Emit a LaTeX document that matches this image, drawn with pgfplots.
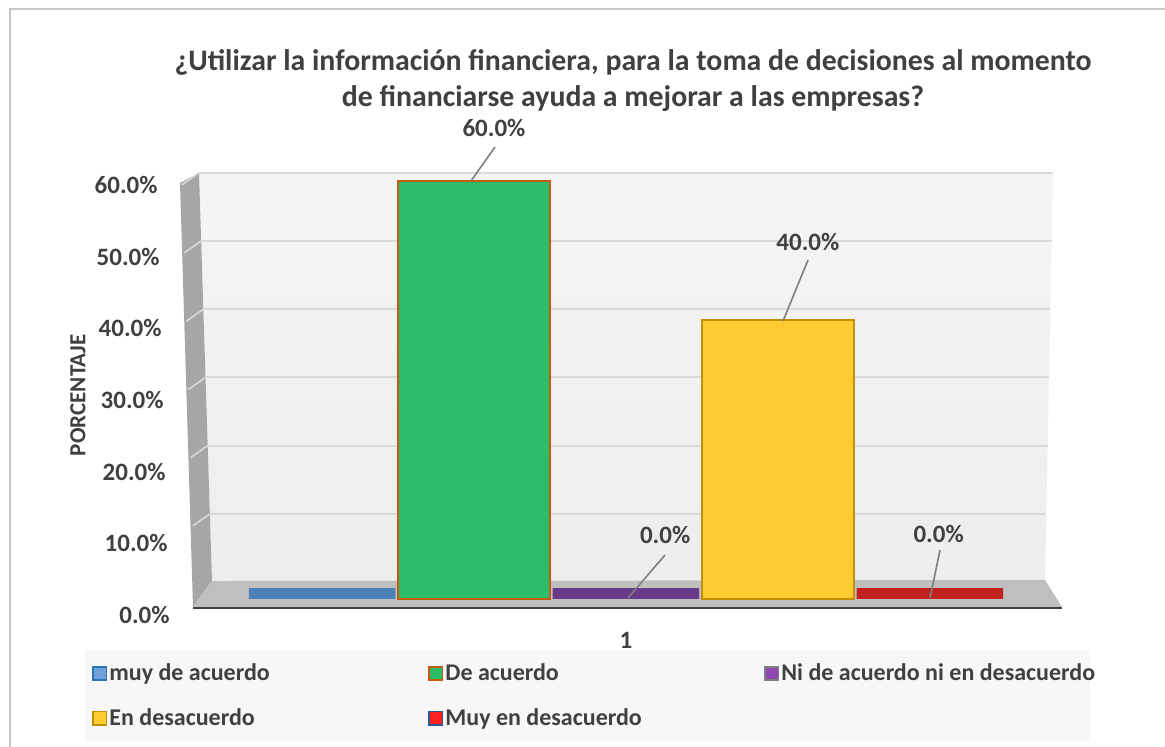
\documentclass[border=0pt]{standalone}
\usepackage{fontspec}
\setmainfont{Carlito}
\usepackage{pgfplots}
\pgfplotsset{compat=1.18}
\definecolor{txt}{HTML}{404040}
\definecolor{blueF}{RGB}{76,128,182}
\definecolor{blueB}{HTML}{2E75B6}
\definecolor{blueL}{RGB}{111,160,216}
\definecolor{greenF}{RGB}{44,189,107}
\definecolor{greenB}{HTML}{C55A11}
\definecolor{purpleF}{RGB}{104,58,137}
\definecolor{purpleL}{RGB}{142,72,176}
\definecolor{purpleB}{HTML}{7F7F7F}
\definecolor{yellowF}{RGB}{254,204,48}
\definecolor{yellowB}{RGB}{191,144,0}
\definecolor{redF}{RGB}{192,32,30}
\definecolor{redL}{RGB}{255,32,32}
\definecolor{redB}{RGB}{46,85,151}
\definecolor{gridc}{HTML}{D9D9D9}
\definecolor{leftw}{HTML}{A6A6A6}
\definecolor{floorc}{HTML}{BFBFBF}
\definecolor{legbg}{HTML}{F7F7F7}
\definecolor{leader}{HTML}{7F7F7F}
\tikzset{label node/.style={anchor=center, font=\fontsize{12.5}{14}\selectfont\bfseries, text=txt}}
\begin{document}
\begin{tikzpicture}
\begin{scope}[x=0.5pt,y=-0.5pt]
\useasboundingbox (0,0) rectangle (1165,746);
\fill[white] (0,0) rectangle (1165,746);
\draw[gray!45, line width=1pt] (10,760) -- (10,9) -- (1175,9);
% back wall
\shade[top color=white!96!black, bottom color=white!93!black] (199,173) -- (1053,173) -- (1045,580) -- (212,581) -- cycle;
% left wall
\fill[leftw] (180,183) -- (199,173) -- (212,581) -- (193,607) -- cycle;
% floor
\fill[floorc] (193,607) -- (212,581) -- (1045,580) -- (1062,607) -- cycle;
\draw[txt, line width=1.2pt] (193,608) -- (1062,608);
% gridlines on the back wall
\foreach \k in {1,...,6} {
  \pgfmathsetmacro\yy{582-68.2*\k}
  \pgfmathsetmacro\xl{199+13*(\yy-173)/408}
  \pgfmathsetmacro\xr{1053-8*(\yy-173)/407}
  \draw[gridc, line width=1pt] (\xl,\yy) -- (\xr,\yy);
  \draw[white!85!black, line width=0.8pt] (\xl,\yy) -- (\xl-17,\yy+12);
}
% title
\node[text=txt, font=\fontsize{14.9}{18}\selectfont\bfseries, align=center] at (633,81)
  {¿Utilizar la información financiera, para la toma de decisiones al momento\\de financiarse ayuda a mejorar a las empresas?};
\end{scope}

\begin{axis}[
  at={(96pt,-303.5pt)}, anchor=south west,
  scale only axis, width=435pt, height=217pt,
  xmin=-0.856, xmax=4.87, ymin=-1.148, ymax=61.12,
  axis line style={draw=none}, tick style={draw=none},
  ytick={0,10,...,60},
  /pgf/number format/assume math mode=true,
  yticklabel={\raisebox{\dimexpr\ticknum pt-12.3pt\relax}[0pt][0pt]{\pgfmathprintnumber[fixed,fixed zerofill,precision=1]{\tick}\%\hspace{\ticknum pt}}},
  yticklabel style={anchor=east, inner sep=0pt, xshift=-11pt},
  xtick={2}, xticklabels={1},
  xticklabel style={anchor=center, yshift=-12.5pt},
  tick label style={font=\fontsize{12.5}{14}\selectfont\bfseries, text=txt},
  ylabel={PORCENTAJE},
  every axis y label/.style={at={(rel axis cs:-0.131,0.488)}, rotate=90, anchor=center, font=\fontsize{11.5}{14}\selectfont\bfseries, text=txt},
  ybar, bar width=1, /pgf/bar shift=0pt,
  clip=false,
  legend columns=3,
  legend image code/.code={\draw[#1, line width=0.9pt] (0.45pt,-3.3pt) rectangle (7.05pt,3.3pt);},
  legend style={at={(rel axis cs:-0.123,-0.0991)}, anchor=north west, fill=legbg, draw=none,
    font=\fontsize{12}{14}\selectfont\bfseries, text=txt,
    inner xsep=3.5pt, inner ysep=5.5pt, row sep=10.5pt,
    nodes={inner sep=1pt},
    /tikz/every even column/.append style={column sep=8.5pt}},
]
\addplot[forget plot, fill=blueF, draw=blueF, line width=5.5pt, /pgf/bar width=0.964, yshift=2.75pt] coordinates {(0,0)};
\addplot[forget plot, fill=greenF, draw=greenB, line width=1.2pt,
  nodes near coords={\pgfmathprintnumber[fixed,fixed zerofill,precision=1]{\pgfplotspointmeta}\%},
  every node near coord/.append style={label node, xshift=10pt, yshift=26.5pt}] coordinates {(1,60)};
\addplot[forget plot, fill=purpleF, draw=purpleF, line width=5.5pt, /pgf/bar width=0.964, yshift=2.75pt,
  nodes near coords={\pgfmathprintnumber[fixed,fixed zerofill,precision=1]{\pgfplotspointmeta}\%},
  every node near coord/.append style={label node, xshift=19.6pt, yshift=29.25pt}] coordinates {(2,0)};
\addplot[forget plot, fill=yellowF, draw=yellowB, line width=1.2pt,
  nodes near coords={\pgfmathprintnumber[fixed,fixed zerofill,precision=1]{\pgfplotspointmeta}\%},
  every node near coord/.append style={label node, xshift=15pt, yshift=39.25pt}] coordinates {(3,40)};
\addplot[forget plot, fill=redF, draw=redF, line width=5.5pt, /pgf/bar width=0.964, yshift=2.75pt,
  nodes near coords={\pgfmathprintnumber[fixed,fixed zerofill,precision=1]{\pgfplotspointmeta}\%},
  every node near coord/.append style={label node, xshift=4.4pt, yshift=30pt}] coordinates {(4,0)};

\addlegendimage{fill=blueL, draw=blueB}
\addlegendentry{\makebox[150pt][l]{muy de acuerdo}}
\addlegendimage{fill=greenF, draw=greenB}
\addlegendentry{\makebox[150pt][l]{De acuerdo}}
\addlegendimage{fill=purpleL, draw=purpleB}
\addlegendentry{\makebox[150pt][l]{Ni de acuerdo ni en desacuerdo}}
\addlegendimage{fill=yellowF, draw=yellowB}
\addlegendentry{\makebox[150pt][l]{En desacuerdo}}
\addlegendimage{fill=redL, draw=redB}
\addlegendentry{\makebox[150pt][l]{Muy en desacuerdo}}
\end{axis}

\begin{scope}[x=0.5pt,y=-0.5pt]
\draw[leader, line width=0.8pt] (471,181) -- (495,147);
\draw[leader, line width=0.8pt] (783,321) -- (808,260);
\draw[leader, line width=0.8pt] (628,598) -- (665,555);
\draw[leader, line width=0.8pt] (930,598) -- (940,550);
\end{scope}
\end{tikzpicture}
\end{document}
